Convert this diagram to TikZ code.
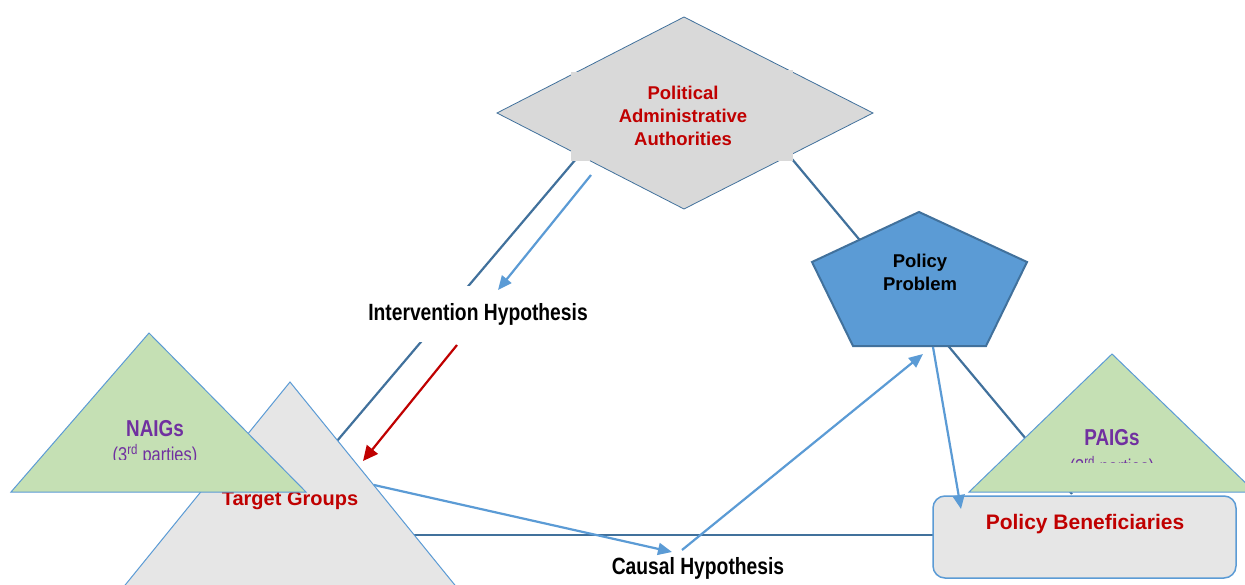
\documentclass[tikz,border=0pt]{standalone}
\usepackage{fontspec}
\setmainfont{Liberation Sans}
\newfontfamily\narrowsans[FakeStretch=0.82]{Liberation Sans}
\usetikzlibrary{arrows.meta}
\definecolor{darkline}{HTML}{41719C}
\definecolor{lightblue}{HTML}{5B9BD5}
\definecolor{diagray}{HTML}{D9D9D9}
\definecolor{boxgray}{HTML}{E6E6E6}
\definecolor{greenfill}{HTML}{C5E0B4}
\definecolor{redtext}{HTML}{C00000}
\definecolor{purpletext}{HTML}{7030A0}
\begin{document}
\begin{tikzpicture}[x=1pt,y=-1pt,
  conn/.style={draw=darkline, line width=2.2pt},
  bluearrow/.style={draw=lightblue, line width=2.2pt, -{Triangle[length=14pt,width=12pt]}},
  redarrow/.style={draw=redtext, line width=2.2pt, -{Triangle[length=15pt,width=14pt]}},
  shapeborder/.style={draw=lightblue, line width=1pt},
  hyplabel/.style={font=\narrowsans\bfseries\fontsize{23.5}{26}\selectfont, text=black, inner sep=0pt},
  redlabel/.style={text=redtext, font=\bfseries\fontsize{#1}{23}\selectfont, align=center, inner sep=0pt},
  purplelabel/.style={text=purpletext, font=\narrowsans\bfseries\fontsize{23}{26}\selectfont, inner sep=0pt},
  thirdlabel/.style={text=purpletext, font=\narrowsans\fontsize{20}{22}\selectfont, inner sep=0pt}
]
\useasboundingbox (0,0) rectangle (1245,585);
\fill[white] (0,0) rectangle (1245,585);

% connector end points
\coordinate (paLL) at (576,159);
\coordinate (tgUR) at (337,441);
\coordinate (paLR) at (792,159);
\coordinate (pbTop) at (1072,494);
\coordinate (tgR) at (414,535);
\coordinate (pbL) at (933,535);

% dark connectors (behind shapes)
\draw[conn] (paLL) -- (tgUR);
\draw[conn] (paLR) -- (pbTop);
\draw[conn] (tgR) -- (pbL);

% Intervention Hypothesis label (white backing hides the line)
\node[hyplabel, fill=white, minimum height=56pt, minimum width=226pt] (ih) at (478,314) {Intervention Hypothesis};

% Political Administrative Authorities diamond
\draw[fill=diagray, draw=darkline, line width=0.8pt] (684,17) -- (873,113) -- (684,209) -- (497,113) -- cycle;
\fill[diagray] (571,72) rectangle (581,84);
\fill[diagray] (571,150) rectangle (590,161);
\fill[diagray] (778,150) rectangle (793,161);
\fill[diagray] (783,70) rectangle (793,77);
\node[redlabel=18.5] (paa) at (683,116) {Political\\Administrative\\Authorities};

% Policy Problem pentagon
\draw[fill=lightblue, draw=darkline, line width=2pt] (919,212) -- (1027,262) -- (986,346) -- (853,346) -- (812,262) -- cycle;
\node[font=\bfseries\fontsize{18.5}{23}\selectfont, align=center, inner sep=0pt] (pp) at (920,272) {Policy\\Problem};

% Target Groups triangle
\draw[shapeborder, fill=boxgray] (290,382) -- (467,600) -- (113,600) -- cycle;
\node[redlabel=20] (tg) at (290,501) {Target Groups};

% NAIGs triangle
\draw[shapeborder, fill=greenfill] (149,333) -- (306,492) -- (11,492) -- cycle;
\node[purplelabel] (naigs) at (155,429) {NAIGs};
\begin{scope}
\clip (0,0) rectangle (1245,459);
\node[thirdlabel] (naigs3) at (155,455) {(3\textsuperscript{rd} parties)};
\end{scope}

% PAIGs triangle
\draw[shapeborder, fill=greenfill] (1112,354) -- (1255,492) -- (969,492) -- cycle;
\node[purplelabel] (paigs) at (1112,438) {PAIGs};
\begin{scope}
\clip (0,0) rectangle (1245,462);
\node[thirdlabel] (paigs3) at (1112,467) {(3\textsuperscript{rd} parties)};
\end{scope}

% Policy Beneficiaries box
\draw[draw=lightblue, line width=1.5pt, fill=boxgray, rounded corners=12pt] (933,496) rectangle (1236,578);
\node[redlabel=21] (pb) at (1085,524) {Policy Beneficiaries};

% Causal Hypothesis label
\node[hyplabel] (ch) at (698,568) {Causal Hypothesis};

% arrows
\coordinate (ihA) at (591,175);
\coordinate (ihB) at (498,290);
\coordinate (redA) at (457,345);
\coordinate (redB) at (363,461);
\coordinate (tgOut) at (374,485);
\coordinate (chIn) at (672,552);
\coordinate (chOut) at (682,550);
\coordinate (ppIn) at (923,354);
\coordinate (ppOut) at (933,347);
\coordinate (pbIn) at (961,509);

\draw[bluearrow] (ihA) -- (ihB);
\draw[redarrow] (redA) -- (redB);
\draw[bluearrow] (tgOut) -- (chIn);
\draw[bluearrow] (chOut) -- (ppIn);
\draw[bluearrow] (ppOut) -- (pbIn);
\end{tikzpicture}
\end{document}
